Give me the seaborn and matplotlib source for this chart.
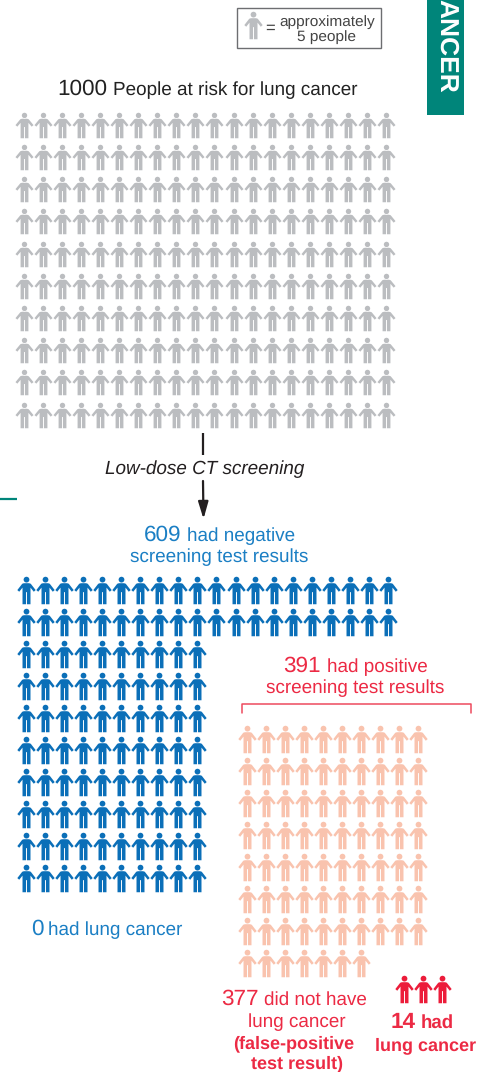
import matplotlib
matplotlib.use("Agg")
import matplotlib.pyplot as plt
import numpy as np
import pandas as pd
import seaborn as sns
from matplotlib.path import Path
from matplotlib.patches import Rectangle

# ---- data: people per icon row ----
total_at_risk = 1000
negative_count = 609
positive_count = 391
false_positive_count = 377
cancer_count = 14
negative_cancer_count = 0
gray_rows = [20] * 10
blue_rows = [20, 20] + [10] * 8
pink_rows = [10] * 7 + [7]
red_rows = [3]
legend_rows = [1]

GRAY, BLUE, PINK, RED = "#BBBDC0", "#0B6FB8", "#F9C3AE", "#EC1C3A"
TBLUE, TRED, TEAL, DARK = "#1B7FC4", "#EC2A44", "#00857A", "#2B2A29"

sns.set_theme(style="white")
plt.rcParams["font.family"] = ["Liberation Sans", "DejaVu Sans"]
plt.rcParams["text.hinting"] = "no_hinting"

fig = plt.figure(figsize=(4.85, 10.72), dpi=100)
ax = fig.add_axes([0, 0, 1, 1])
ax.set_xlim(0, 485)
ax.set_ylim(1072, 0)
ax.axis("off")


def person(xs=1.0):
    head = Path.circle((0, 0.79), 0.21)
    body = Path(np.array([
        (-0.19, 0.53), (0.19, 0.53), (0.31, 0.49), (0.667, 0.03), (0.53, -0.09),
        (0.29, 0.21), (0.29, -1.0), (0.035, -1.0), (0.035, -0.12), (-0.035, -0.12),
        (-0.035, -1.0), (-0.29, -1.0), (-0.29, 0.21), (-0.53, -0.09),
        (-0.667, 0.03), (-0.31, 0.49), (-0.19, 0.53)]) * np.array([xs, 1.0]))
    return Path.make_compound_path(head, body)


def icons(rows, x0, y0, dx, dy, color, height_px, xs=1.0):
    df = pd.DataFrame(
        [(x0 + c * dx, y0 + r * dy) for r, n in enumerate(rows) for c in range(n)],
        columns=["x", "y"])
    sns.scatterplot(data=df, x="x", y="y", ax=ax, marker=person(xs), color=color,
                    s=(height_px * 0.72) ** 2, linewidth=0, legend=False, zorder=3)


icons(gray_rows, 24.0, 124.8, 19.05, 32.2, GRAY, 25.5, 1.06)
icons(blue_rows, 26.0, 589.5, 19.05, 32.0, BLUE, 27.5)
icons(pink_rows, 247.0, 738.5, 19.0, 32.0, PINK, 27.5)
icons(red_rows, 404.0, 988.5, 19.0, 32.0, RED, 27.5)
icons(legend_rows, 253.0, 24.5, 19.0, 32.0, GRAY, 27.5)


def txt(x, y, s, size=13.3, color=DARK, ha="left", **kw):
    ax.text(x, y, s, fontsize=size, color=color, ha=ha, va="baseline", **kw)


BIG = 16.2
REG = 13.55
# legend box
ax.add_patch(Rectangle((237.5, 7.5), 144, 40, fc="white", ec="#6D6E71", lw=1.0, zorder=1))
txt(265, 33, "=", 12, "#444444")
txt(279.5, 26, "approximately", 11.1, "#444444")
txt(297, 41, "5 people", 11.1, "#444444")

# teal tab
ax.add_patch(Rectangle((427, -2), 37, 117, fc=TEAL, ec="none"))
ax.text(446, -1, "ANCER", rotation=-90, color="white", fontsize=19, fontweight="bold",
        ha="center", va="top", rotation_mode="default")
ax.plot([0, 17.5], [498.5, 498.5], color=TEAL, lw=1.6, solid_capstyle="butt")

# header
txt(57.5, 95, str(total_at_risk), BIG, "#222222")
txt(113, 95, "People at risk for lung cancer", REG, "#222222")

# screening arrow
ax.plot([203, 203], [433, 455], color="#231F20", lw=1.6, solid_capstyle="butt")
ax.annotate("", xy=(203.5, 519), xytext=(203, 481),
            arrowprops=dict(arrowstyle="-|>,head_length=0.85,head_width=0.25",
                            color="#231F20", lw=1.6, shrinkA=0, shrinkB=0))
txt(205, 474, "Low-dose CT screening", 13.55, "#231F20", ha="center", style="italic")

# negative
txt(144, 541, str(negative_count), BIG, TBLUE)
txt(187, 541, "had negative", REG, TBLUE)
txt(219, 562, "screening test results", REG, TBLUE, ha="center")
txt(31, 935, str(negative_cancer_count), BIG, TBLUE)
txt(48, 935, "had lung cancer", REG, TBLUE)

# positive
txt(283, 672, str(positive_count), BIG, TRED)
txt(327, 672, "had positive", REG, TRED)
txt(355.5, 693, "screening test results", REG, TRED, ha="center")
ax.plot([242, 242, 471.5, 471.5], [713, 703.5, 703.5, 713], color="#EE4A5E", lw=1.1)

# false positive
txt(221, 1005, str(false_positive_count), BIG, TRED)
txt(264, 1005, "did not have", REG, TRED)
txt(297, 1027, "lung cancer", REG, TRED, ha="center")
txt(294, 1048, "(false-positive", 13.0, TRED, ha="center", fontweight="bold")
txt(297, 1068, "test result)", 13.0, TRED, ha="center", fontweight="bold")

# true cancer
txt(391, 1028, str(cancer_count), BIG, TRED, fontweight="bold")
txt(421, 1028, "had", 13.4, TRED, fontweight="bold")
txt(425.5, 1050, "lung cancer", 13.0, TRED, ha="center", fontweight="bold")

fig.savefig("out.png", dpi=100, facecolor="white")
